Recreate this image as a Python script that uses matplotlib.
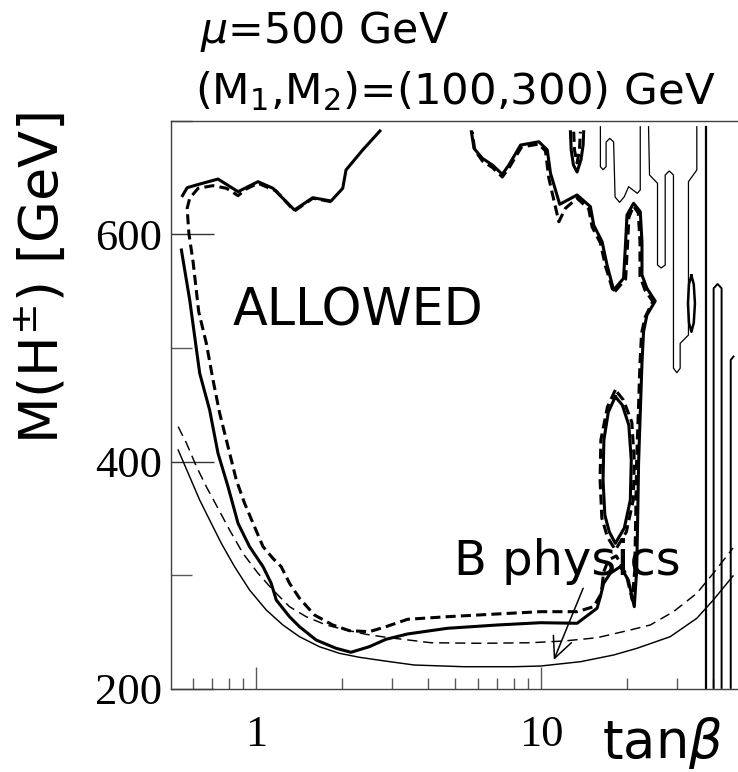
import matplotlib
matplotlib.use("Agg")
import matplotlib.pyplot as plt
from matplotlib.ticker import FixedLocator, NullFormatter, FixedFormatter

plt.rcParams['font.family'] = ['DejaVu Sans']
plt.rcParams['mathtext.fontset'] = 'dejavusans'

# ---------------- data (tan beta, M(H+-) in GeV) ----------------
# thick solid contour, upper-left piece
s_top_x = [0.551, 0.572, 0.633, 0.734, 0.863, 1.014, 1.144, 1.361, 1.579, 1.830, 2.011, 2.065, 2.363, 2.716]
s_top_y = [633.9, 640.9, 644.1, 648.5, 637.4, 646.2, 640.4, 621.3, 632.1, 629.2, 640.4, 656.5, 674.1, 690.8]

# thick solid contour, main piece (left side, bottom, right side, top-right)
s_main_x = [0.546, 0.584, 0.633, 0.686, 0.734, 0.796, 0.863, 0.947, 1.056, 1.128, 1.175, 1.308, 1.418,
            1.622, 1.905, 2.150, 2.493, 2.851, 3.396, 4.688, 7.015, 9.94, 13.36, 15.70, 16.13, 16.56,
            17.48, 18.95, 20.21, 21.21, 21.63, 21.82, 21.96, 22.26, 22.57, 22.86, 23.49, 25.12, 23.49,
            22.57, 22.57, 22.26, 21.09, 20.0, 19.72, 19.45, 17.95, 17.02, 16.35, 15.28, 14.88, 13.36,
            11.61, 11.22, 10.78, 10.50, 9.81, 8.463, 7.70, 7.303, 6.736, 6.216, 5.808, 5.688]
s_main_y = [586.1, 542.1, 477.7, 445.4, 407.3, 377.9, 345.7, 325.2, 307.6, 293.0, 278.3, 263.6, 254.8,
            243.1, 235.8, 232.3, 237.2, 243.7, 248.4, 253.4, 256.3, 258.3, 257.8, 271.0, 281.2, 293.0,
            301.8, 307.6, 295.9, 272.4, 304.7, 354.8, 398.5, 442.5, 486.5, 514.2, 528.9, 541.2, 552.4,
            564.1, 593.4, 619.8, 627.2, 616.9, 587.6, 561.2, 550.9, 572.9, 593.4, 608.1, 624.2, 634.5,
            626.3, 638.9, 653.5, 674.1, 681.3, 678.4, 660.9, 652.7, 660.9, 666.7, 675.5, 690.1]

# thick dashed contour, left + bottom
d_left_x = [1.830, 1.579, 1.361, 1.175, 1.014, 0.923, 0.863, 0.785, 0.705, 0.625, 0.584, 0.572, 0.580,
            0.600, 0.628, 0.668, 0.705, 0.744, 0.796, 0.851, 0.910, 0.986, 1.056, 1.144, 1.223, 1.308,
            1.418, 1.600, 1.855, 2.121, 2.493, 2.851, 3.396, 4.688, 7.015, 9.94, 13.36, 15.28, 16.13, 16.35]
d_left_y = [628.6, 631.6, 620.4, 638.0, 644.8, 639.8, 633.9, 640.4, 642.7, 640.4, 631.6, 622.8, 600.8,
            575.8, 531.8, 504.0, 471.8, 442.5, 413.1, 383.8, 363.3, 342.7, 325.2, 314.9, 307.6, 293.0,
            279.8, 265.1, 256.3, 251.3, 250.4, 254.8, 261.3, 263.6, 266.0, 268.0, 268.0, 272.4, 282.7, 290.0]

# thick dashed contour, right part
d_right_x = [16.35, 16.56, 17.20, 18.35, 19.89, 20.87, 21.29, 21.47, 21.61, 21.91, 22.21, 22.50, 23.17,
             24.62, 23.12, 22.21, 22.21, 21.91, 21.09, 20.32, 20.05, 19.78, 17.95, 16.80, 16.13, 15.09,
             14.68, 13.36, 12.16, 11.53, 11.07, 10.63, 10.35, 9.81, 8.53, 7.74, 7.303, 6.736, 6.216, 5.84, 5.73]
d_right_y = [290.0, 302.9, 313.5, 317.0, 300.3, 278.3, 304.7, 354.8, 398.8, 442.7, 486.7, 513.1, 527.2,
             540.8, 550.9, 563.2, 593.1, 618.6, 624.8, 615.1, 587.0, 560.6, 548.3, 572.0, 592.3, 606.3,
             622.2, 631.6, 622.8, 611.0, 630.1, 649.4, 673.2, 679.3, 676.7, 659.1, 650.3, 658.7, 664.4, 674.1, 690.1]

# lens-shaped islands
lens_s_x = [18.20, 17.20, 16.59, 16.48, 16.72, 17.34, 18.20, 19.57, 20.54, 20.70, 20.29, 19.25, 18.20]
lens_s_y = [457.1, 443.6, 419.0, 383.8, 353.0, 338.1, 328.1, 341.6, 366.2, 401.4, 432.2, 449.8, 457.1]
lens_d_x = [18.20, 17.07, 16.19, 16.09, 16.32, 17.07, 18.20, 19.89, 21.04, 21.21, 20.79, 19.42, 18.20]
lens_d_y = [463.0, 448.0, 419.0, 383.8, 350.4, 333.7, 322.3, 338.1, 366.2, 401.4, 434.8, 454.2, 463.0]

# small V near the top
v_s_x = [12.66, 12.74, 12.97, 13.36, 13.78, 14.03, 14.09]
v_s_y = [690.1, 674.1, 660.9, 654.7, 665.3, 678.4, 690.1]
v_d_x = [13.0, 13.08, 13.36, 13.62, 13.72]
v_d_y = [690.1, 674.1, 662.7, 674.1, 690.1]

# small closed island on the right
isl_x = [33.66, 34.30, 34.63, 34.30, 33.66, 33.00, 32.73, 33.00, 33.66]
isl_y = [563.7, 556.0, 539.0, 522.0, 514.2, 522.0, 539.0, 556.0, 563.7]

# thin contours on the right
t1_x = [16.13, 16.13, 16.48, 16.89, 16.89, 17.41, 17.95, 18.16, 18.84, 19.57, 20.26, 20.96, 21.74, 22.26, 22.26]
t1_y = [694.5, 659.4, 656.7, 659.4, 681.1, 684.3, 681.1, 632.7, 628.0, 633.0, 641.8, 638.9, 636.0, 638.9, 694.5]
t2_x = [23.80, 23.99, 25.59, 25.59, 26.37, 27.23, 27.23, 28.13, 29.11, 29.11, 29.92, 30.73, 30.73, 32.86, 32.86, 35.16, 35.16]
t2_y = [694.5, 652.1, 644.8, 572.9, 570.3, 572.9, 652.1, 655.6, 652.1, 482.1, 478.2, 482.1, 504.0, 511.3, 646.2, 656.5, 694.5]

# vertical contours at the far right
v1_x = [37.80, 37.80]
v1_y = [694.5, 201.0]
v2_x = [40.27, 40.27, 41.59, 42.95, 42.95]
v2_y = [201.0, 552.4, 556.2, 552.4, 201.0]
v3_x = [46.24, 46.24, 47.3]
v3_y = [201.0, 489.4, 492.4]

# B physics bounds (thin)
bd_x = [0.532, 0.569, 0.617, 0.668, 0.734, 0.806, 0.898, 1.014, 1.144, 1.308, 1.496, 1.758, 2.065, 2.427,
        2.851, 4.098, 6.131, 9.173, 12.0, 15.70, 20.54, 24.13, 29.11, 35.16, 40.18, 47.1]
bd_y = [430.7, 416.1, 395.5, 377.9, 358.9, 339.8, 319.3, 301.8, 287.1, 272.4, 263.6, 256.3, 251.9, 248.1,
        245.5, 240.7, 240.2, 240.7, 242.2, 245.1, 251.9, 256.3, 268.0, 284.2, 301.8, 324.0]
bs_x = [0.532, 0.577, 0.633, 0.686, 0.754, 0.839, 0.947, 1.084, 1.240, 1.418, 1.665, 1.957, 2.299, 2.777,
        3.581, 5.358, 8.017, 9.94, 13.72, 17.95, 21.67, 28.35, 35.16, 40.18, 47.1]
bs_y = [410.2, 389.7, 366.2, 348.6, 328.1, 307.6, 287.1, 269.5, 256.3, 246.0, 237.2, 231.4, 227.9, 224.9,
        221.1, 219.6, 219.6, 220.2, 224.0, 229.9, 235.8, 246.0, 262.2, 278.3, 299.4]

arrow_from = (14.03, 288.6)
arrow_to = (11.07, 225.5)

x_major = [1, 10]
x_major_labels = ['1', '10']
x_minor = [0.6, 0.7, 0.8, 0.9, 2, 3, 4, 5, 6, 7, 8, 9, 20, 30, 40]
y_major = [200, 400, 600]
y_minor = [300, 500, 700]

# ---------------- figure ----------------
W, H = 738, 772
fig = plt.figure(figsize=(W / 100, H / 100), dpi=100)
ax = fig.add_axes([170.5 / W, 1 - 689 / H, (740.4 - 170.5) / W, (689 - 120.5) / H])
ax.set_xscale('log')
ax.set_xlim(0.5, 50)
ax.set_ylim(200, 700)

thick = 2.2
thin = 1.05
dash_thick = (0, (3.3, 1.7))
dash_thin = (0, (7, 4))

ax.plot(s_top_x, s_top_y, color='k', lw=thick)
ax.plot(s_main_x, s_main_y, color='k', lw=thick)
ax.plot(d_left_x, d_left_y, color='k', lw=thick, ls=dash_thick, dash_capstyle='butt')
ax.plot(d_right_x, d_right_y, color='k', lw=thick, ls=dash_thick, dash_capstyle='butt')
ax.plot(lens_s_x, lens_s_y, color='k', lw=thick)
ax.plot(lens_d_x, lens_d_y, color='k', lw=thick, ls=dash_thick, dash_capstyle='butt')
ax.plot(v_s_x, v_s_y, color='k', lw=thick)
ax.plot(v_d_x, v_d_y, color='k', lw=thick, ls=dash_thick, dash_capstyle='butt')
ax.plot(isl_x, isl_y, color='k', lw=1.8)
ax.plot(t1_x, t1_y, color='k', lw=0.9)
ax.plot(t2_x, t2_y, color='k', lw=0.9)
ax.plot(v1_x, v1_y, color='k', lw=1.6)
ax.plot(v2_x, v2_y, color='k', lw=1.4)
ax.plot(v3_x, v3_y, color='k', lw=1.4)
ax.plot(bs_x, bs_y, color='k', lw=thin)
ax.plot(bd_x, bd_y, color='k', lw=thin, ls=dash_thin, dash_capstyle='butt')

ax.annotate('', xy=arrow_to, xytext=arrow_from,
            arrowprops=dict(arrowstyle='->,head_length=0.75,head_width=0.35',
                            lw=1.1, color='k', shrinkA=0, shrinkB=0, mutation_scale=20))

# axes styling
for side in ['left', 'bottom', 'top']:
    ax.spines[side].set_linewidth(1.0)
    ax.spines[side].set_color('0.25')
ax.spines['right'].set_visible(False)

ax.xaxis.set_major_locator(FixedLocator(x_major))
ax.xaxis.set_major_formatter(FixedFormatter(x_major_labels))
ax.xaxis.set_minor_locator(FixedLocator(x_minor))
ax.xaxis.set_minor_formatter(NullFormatter())
ax.yaxis.set_major_locator(FixedLocator(y_major))
ax.yaxis.set_minor_locator(FixedLocator(y_minor))
ax.yaxis.set_minor_formatter(NullFormatter())

ax.tick_params(axis='x', which='major', direction='in', length=15.6, width=1.0, color='0.35', pad=19,
               labelsize=32, top=False)
ax.tick_params(axis='x', which='minor', direction='in', length=7.7, width=1.0, color='0.35', top=False)
ax.tick_params(axis='y', which='major', direction='in', length=30.7, width=1.0, color='0.2', pad=6,
               labelsize=32, right=False)
ax.tick_params(axis='y', which='minor', direction='in', length=15, width=1.0, color='0.35', right=False)
for lab in ax.get_xticklabels() + ax.get_yticklabels():
    lab.set_family('Liberation Serif')

# texts
def px(x, y):
    return x / W, 1 - y / H

fig.text(*px(200, 43), r'$\mu$=500 GeV', fontsize=30.8, ha='left', va='baseline')
fig.text(*px(195, 104), r'(M$_1$,M$_2$)=(100,300) GeV', fontsize=31.3, ha='left', va='baseline')
fig.text(*px(42, 278), r'M(H$^{\pm}$) [GeV]', fontsize=39, rotation=90, ha='center', va='center')
fig.text(*px(602, 758), r'tan$\beta$', fontsize=38, ha='left', va='baseline')
ax.text(*px(233, 326), 'ALLOWED', transform=fig.transFigure, fontsize=36.5, ha='left', va='baseline')
ax.text(*px(454, 575), 'B physics', transform=fig.transFigure, fontsize=34.5, ha='left', va='baseline')

fig.savefig('out.png', dpi=100)
